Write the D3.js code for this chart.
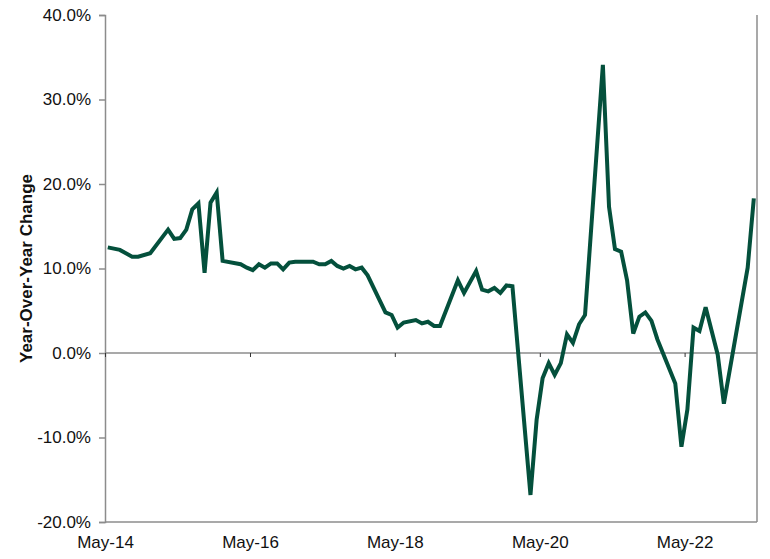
<!DOCTYPE html>
<html>
<head>
<meta charset="utf-8">
<script src="https://cdn.jsdelivr.net/npm/d3@7/dist/d3.min.js"></script>
<style>
  html, body { margin: 0; padding: 0; background: #fff; }
  svg { display: block; }
  text { font-family: "Liberation Sans", Arial, sans-serif; }
</style>
</head>
<body>
<svg id="chart" width="770" height="559"></svg>
<script>
// ---- Data ----
const dates = [
  "2014-05","2014-07","2014-09","2014-10","2014-12",
  "2015-03","2015-04","2015-05","2015-06","2015-07","2015-08","2015-09","2015-10","2015-11","2015-12",
  "2016-03","2016-04","2016-05","2016-06","2016-07","2016-08","2016-09","2016-10","2016-11","2016-12",
  "2017-03","2017-04","2017-05","2017-06","2017-07","2017-08","2017-09","2017-10","2017-11","2017-12",
  "2018-03","2018-04","2018-05","2018-06","2018-08","2018-09","2018-10","2018-11","2018-12",
  "2019-03","2019-04","2019-06","2019-07","2019-08","2019-09","2019-10","2019-11","2019-12",
  "2020-03","2020-04","2020-05","2020-06","2020-07","2020-08","2020-09","2020-10","2020-11","2020-12",
  "2021-03","2021-04","2021-05","2021-06","2021-07","2021-08","2021-09","2021-10","2021-11","2021-12",
  "2022-03","2022-04","2022-05","2022-06","2022-07","2022-08","2022-10","2022-11",
  "2023-03","2023-04"
];
const yoyChange = [
  12.5, 12.2, 11.4, 11.4, 11.8,
  14.6, 13.5, 13.6, 14.6, 17.0, 17.7, 9.5, 17.8, 19.0, 10.9,
  10.5, 10.1, 9.8, 10.5, 10.1, 10.6, 10.6, 9.9, 10.7, 10.8,
  10.8, 10.5, 10.5, 10.9, 10.3, 10.0, 10.3, 9.9, 10.1, 9.2,
  4.8, 4.5, 3.0, 3.6, 3.9, 3.5, 3.7, 3.2, 3.2,
  8.6, 7.1, 9.7, 7.5, 7.3, 7.7, 7.1, 8.0, 7.9,
  -16.8, -7.9, -3.0, -1.2, -2.6, -1.2, 2.2, 1.2, 3.4, 4.5,
  34.1, 17.3, 12.3, 12.0, 8.6, 2.3, 4.3, 4.8, 3.8, 1.6,
  -3.6, -11.1, -6.7, 3.0, 2.6, 5.4, -0.2, -6.0,
  10.1, 18.3
];
const yTicks = [-20, -10, 0, 10, 20, 30, 40];
const xTickLabels = ["May-14", "May-16", "May-18", "May-20", "May-22"];
const yAxisTitle = "Year-Over-Year Change";

// ---- Layout ----
const svg = d3.select("#chart");
const mLeft = 105, mRight = 757, mTop = 15, mBottom = 522;

const parseMonth = d3.timeParse("%Y-%m");
const parseTick = d3.timeParse("%b-%y");
const data = dates.map((d, i) => {
  const dt = parseMonth(d);
  dt.setDate(15);
  return { date: dt, value: yoyChange[i] };
});
const tickDates = xTickLabels.map(parseTick);

const x = d3.scaleTime()
  .domain([new Date(2014, 4, 1), new Date(2023, 4, 1)])
  .range([mLeft, mRight]);
const y = d3.scaleLinear().domain([-20, 40]).range([mBottom, mTop]);

const gray = "#8c8c8c";
const fontFam = "'Liberation Sans', Arial, sans-serif";

// plot border (bottom + right)
svg.append("line").attr("x1", mLeft).attr("x2", mRight).attr("y1", mBottom).attr("y2", mBottom)
  .attr("stroke", gray).attr("stroke-width", 1.5);
svg.append("line").attr("x1", mRight).attr("x2", mRight).attr("y1", mTop).attr("y2", mBottom)
  .attr("stroke", gray).attr("stroke-width", 1.5);

// Y axis
const yAxis = d3.axisLeft(y).tickValues(yTicks).tickSize(6).tickPadding(8)
  .tickFormat(d => d.toFixed(1) + "%");
const gy = svg.append("g").attr("transform", `translate(${mLeft},0)`).call(yAxis);
gy.select(".domain").attr("stroke", gray).attr("stroke-width", 1.5);
gy.selectAll(".tick line").attr("stroke", gray).attr("stroke-width", 1.5);
gy.selectAll(".tick text").attr("font-size", 17).attr("fill", "#111")
  .style("font-family", fontFam);

// Zero line with ticks (X axis crossing at 0)
const xAxis = d3.axisBottom(x).tickValues(tickDates).tickSize(4).tickFormat("");
const gx = svg.append("g").attr("transform", `translate(0,${y(0)})`).call(xAxis);
gx.select(".domain").attr("stroke", gray).attr("stroke-width", 1.5).attr("d", `M${mLeft},0H${mRight}`);
gx.selectAll(".tick line").attr("stroke", "#333").attr("stroke-width", 1);

// X tick labels at the bottom
const gxl = svg.append("g").attr("transform", `translate(0,${mBottom})`)
  .call(d3.axisBottom(x).tickValues(tickDates).tickSize(0).tickPadding(14)
    .tickFormat((d, i) => xTickLabels[i]));
gxl.select(".domain").remove();
gxl.selectAll(".tick text").attr("font-size", 17).attr("fill", "#111")
  .style("font-family", fontFam);

// Y axis title
svg.append("text")
  .attr("transform", `translate(32,${(mTop + mBottom) / 2}) rotate(-90)`)
  .attr("text-anchor", "middle")
  .attr("font-size", 17).attr("font-weight", "bold").attr("fill", "#111")
  .text(yAxisTitle);

// Line
const line = d3.line().x(d => x(d.date)).y(d => y(d.value));
svg.append("path").datum(data)
  .attr("fill", "none")
  .attr("stroke", "#04503c")
  .attr("stroke-width", 4)
  .attr("stroke-linejoin", "miter")
  .attr("d", line);
</script>
</body>
</html>
